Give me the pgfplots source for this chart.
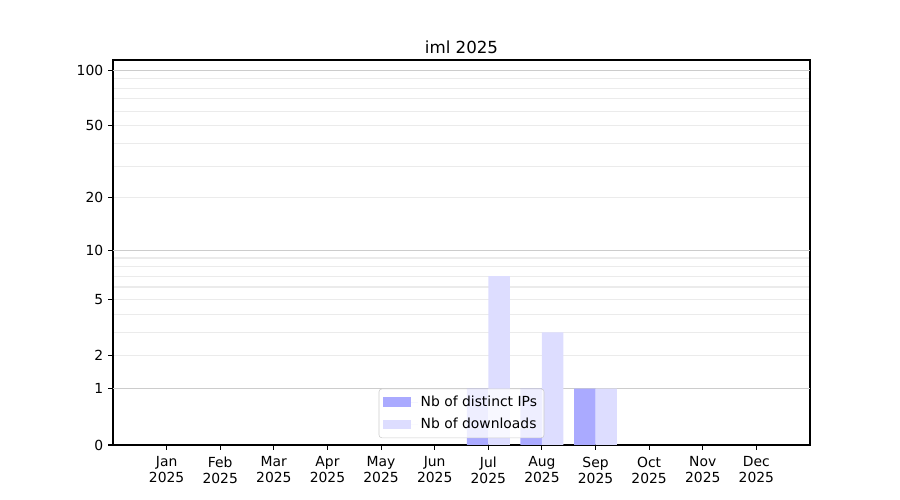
\documentclass[border=0pt]{standalone}
\usepackage{pgfplots}
\pgfplotsset{compat=1.18}
\usepackage{fontspec}
\setmainfont{DejaVu Sans}
\definecolor{ipcol}{HTML}{AAAAFF}
\definecolor{dlcol}{HTML}{DDDDFF}
\definecolor{majgrid}{HTML}{CCCCCC}
\definecolor{mingrid}{HTML}{EBEBEB}
\begin{document}
\fontsize{10bp}{11.5bp}\selectfont
\begin{tikzpicture}
\useasboundingbox (-81.36bp,-39.6bp) rectangle (566.64bp,320.4bp);
\begin{axis}[
  at={(0,0)}, anchor=south west,
  scale only axis,
  width=501.84bp, height=277.2bp,
  xmin=-1, xmax=12,
  ymin=0, ymax=113.5,
  y coord trafo/.code={\pgfmathparse{log10(1+#1)}},
  y coord inv trafo/.code={\pgfmathparse{10^(#1)-1}},
  xtick={0,...,11},
  xticklabels={Jan\\2025,Feb\\2025,Mar\\2025,Apr\\2025,May\\2025,Jun\\2025,Jul\\2025,Aug\\2025,Sep\\2025,Oct\\2025,Nov\\2025,Dec\\2025},
  xticklabel style={align=center, font=\fontsize{10bp}{11.5bp}\selectfont, yshift=-1.5bp},
  ytick={0,1,2,5,10,20,50,100},
  yticklabels={0,1,2,5,10,20,50,100},
  yticklabel style={font=\fontsize{10bp}{12bp}\selectfont},
  minor ytick={2,3,4,5,6,7,8,9,20,30,40,50,60,70,80,90},
  yminorgrids=true,
  minor grid style={mingrid, line width=0.8bp},
  minor tick length=0pt,
  extra y ticks={1,10,100},
  extra y tick labels={},
  extra y tick style={ymajorgrids=true, major tick length=0pt, tick style={draw=none}, major grid style={majgrid, line width=0.8bp}},
  tick pos=left,
  tick align=outside,
  major tick length=3.5bp,
  tick style={black, line width=0.8bp},
  axis line style={line width=0.8bp},
  /pgf/number format/assume math mode=true,
  title={iml 2025},
  title style={at={(0.5,1)}, anchor=base, yshift=-1.5bp, font=\fontsize{12bp}{14bp}\selectfont},
  legend style={at={(0.5,0.018)}, anchor=south, draw=majgrid, fill=white, fill opacity=0.8, text opacity=1, rounded corners=2bp, font=\fontsize{10bp}{12bp}\selectfont, row sep=3bp, inner sep=3bp},
  legend cell align=left,
  legend image code/.code={\path (0bp,0bp) -- (25bp,0bp); \fill[#1, fill opacity=1, sharp corners] (0bp,-3.5bp) rectangle (20bp,3.5bp);},
]
\addplot[ybar, bar width=0.4, bar shift=-0.2, fill=ipcol, draw=none] coordinates {
  (0,0) (1,0) (2,0) (3,0) (4,0) (5,0) (6,1) (7,1) (8,1) (9,0) (10,0) (11,0)
};
\addlegendentry{Nb of distinct IPs}
\addplot[ybar, bar width=0.4, bar shift=0.2, fill=dlcol, draw=none] coordinates {
  (0,0) (1,0) (2,0) (3,0) (4,0) (5,0) (6,7) (7,3) (8,1) (9,0) (10,0) (11,0)
};
\addlegendentry{Nb of downloads}
\end{axis}
\end{tikzpicture}
\end{document}
